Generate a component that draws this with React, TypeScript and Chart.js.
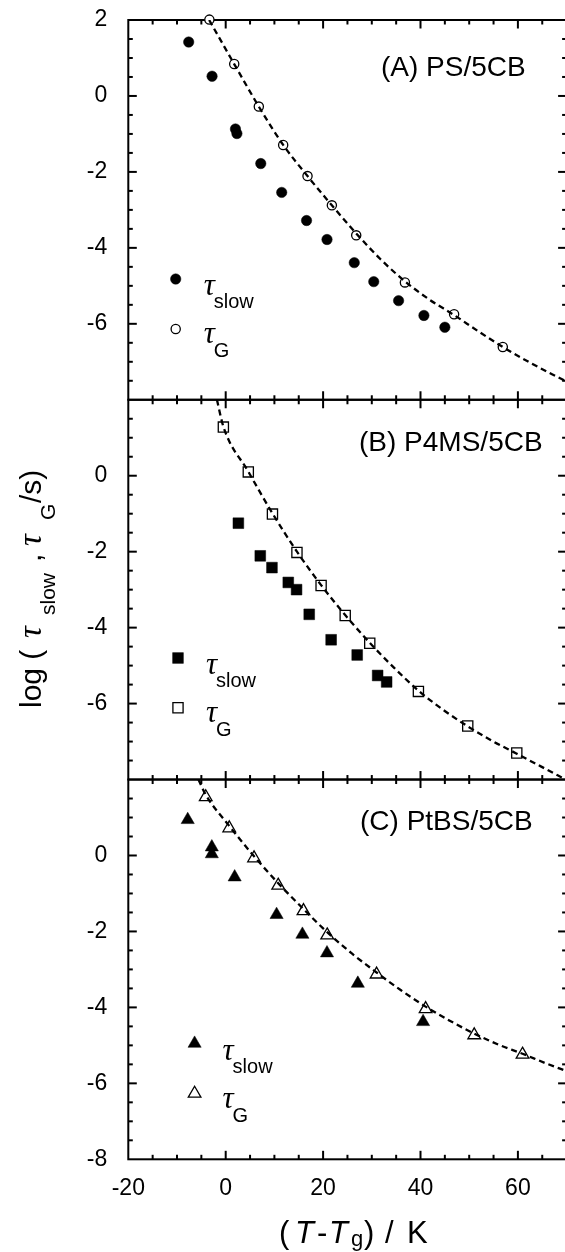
import React, { useEffect, useRef } from "react";
import { Chart, registerables } from "chart.js";

Chart.register(...registerables);

// ---------- data ----------
const xTickValues = [-20, 0, 20, 40, 60];
const yTickValues = [-8, -6, -4, -2, 0, 2];
const xMin = -20;
const xMax = 70;
const yMin = -8;
const yMax = 2;
const panelLabels = ["(A) PS/5CB", "(B) P4MS/5CB", "(C) PtBS/5CB"];

// Panel A: PS/5CB
const psSlowX = [-7.6, -2.8, 2.0, 2.3, 7.2, 11.5, 16.6, 20.8, 26.4, 30.4, 35.5, 40.7, 45.0];
const psSlowY = [1.42, 0.52, -0.87, -0.99, -1.78, -2.54, -3.28, -3.78, -4.39, -4.89, -5.39, -5.78, -6.09];
const psGX = [-3.35, 1.75, 6.8, 11.8, 16.8, 21.8, 26.8, 36.8, 46.9, 56.9];
const psGY = [2.01, 0.84, -0.28, -1.29, -2.11, -2.88, -3.67, -4.91, -5.75, -6.61];
const psFitX = [-3.4, 1.75, 6.8, 11.8, 16.8, 21.8, 26.8, 31.8, 36.8, 41.8, 46.9, 51.9, 56.9, 61.9, 66.9, 70];
const psFitY = [2.0, 0.84, -0.28, -1.29, -2.11, -2.88, -3.62, -4.3, -4.88, -5.36, -5.77, -6.2, -6.61, -6.98, -7.32, -7.52];

// Panel B: P4MS/5CB
const p4msSlowX = [2.6, 7.1, 9.5, 12.85, 14.55, 17.15, 21.65, 27.0, 31.2, 33.05];
const p4msSlowY = [-1.25, -2.11, -2.42, -2.81, -3.0, -3.65, -4.32, -4.72, -5.26, -5.43];
const p4msGX = [-0.48, 4.64, 9.6, 14.63, 19.59, 24.54, 29.58, 39.57, 49.7, 59.77];
const p4msGY = [1.28, 0.1, -1.01, -2.02, -2.89, -3.68, -4.41, -5.68, -6.59, -7.3];
const p4msFitX = [-1.8, -0.47, 4.64, 9.6, 14.63, 19.59, 24.54, 29.58, 34.6, 39.57, 44.6, 49.7, 54.7, 59.77, 64.8, 69.8];
const p4msFitY = [2.0, 1.29, 0.11, -0.99, -2.0, -2.88, -3.67, -4.4, -5.06, -5.66, -6.16, -6.6, -6.98, -7.32, -7.66, -8.0];

// Panel C: PtBS/5CB
const ptbsSlowX = [-7.8, -2.85, -2.85, 1.84, 10.45, 15.75, 20.8, 27.13, 40.53];
const ptbsSlowY = [0.94, 0.22, 0.04, -0.57, -1.56, -2.08, -2.57, -3.37, -4.38];
const ptbsGX = [-4.1, 0.73, 5.82, 10.78, 15.97, 20.84, 30.98, 41.05, 51.03, 60.95];
const ptbsGY = [1.54, 0.72, -0.07, -0.79, -1.46, -2.1, -3.13, -4.04, -4.73, -5.24];
const ptbsFitX = [-5.6, -4.1, 0.72, 5.82, 10.78, 15.97, 20.84, 25.9, 30.98, 36.0, 41.05, 46.0, 51.03, 56.0, 60.95, 65.5, 70];
const ptbsFitY = [2.0, 1.6, 0.78, -0.02, -0.73, -1.41, -2.02, -2.58, -3.08, -3.55, -3.98, -4.35, -4.69, -4.98, -5.22, -5.46, -5.68];

// ---------- layout ----------
const W = 572;
const H = 1252;
const AREA_LEFT = 128.3;
const AREA_RIGHT = 566.6;
const AREA_TOP = 20;
const AREA_BOTTOM = 1159.3;

const SANS = "'Liberation Sans', Arial, Helvetica, sans-serif";
const SERIF = "'Liberation Serif', 'Times New Roman', serif";

const zip = (xs: number[], ys: number[]) => xs.map((x, i) => ({ x, y: ys[i] }));

const markerSet = (
  data: { x: number; y: number }[],
  yAxisID: string,
  style: string,
  filled: boolean,
  radius: number
) => ({
  data,
  yAxisID,
  showLine: false,
  pointStyle: style,
  pointRadius: radius,
  pointHoverRadius: radius,
  pointBackgroundColor: filled ? "#000" : "#fff",
  pointBorderColor: "#000",
  pointBorderWidth: filled ? 0.5 : 1.3,
  order: 2,
  clip: false as const,
});

const fitSet = (data: { x: number; y: number }[], yAxisID: string) => ({
  data,
  yAxisID,
  showLine: true,
  pointRadius: 0,
  borderColor: "#000",
  borderWidth: 2.3,
  borderDash: [6, 4],
  cubicInterpolationMode: "monotone" as const,
  fill: false,
  order: 1,
});

const hideFor: Record<string, number[]> = {
  yA: [-8],
  yB: [-8, 2],
  yC: [2],
};

const yScale = (id: string) => ({
  type: "linear" as const,
  position: "left" as const,
  stack: "panels",
  stackWeight: 1,
  min: yMin,
  max: yMax,
  afterBuildTicks: (s: any) => {
    s.ticks = yTickValues.map((v) => ({ value: v }));
  },
  afterFit: (s: any) => {
    s.width = AREA_LEFT;
  },
  // invisible tick marks only serve as the gap between labels and the frame
  grid: {
    display: true,
    drawOnChartArea: false,
    drawTicks: true,
    tickLength: 21,
    tickColor: "rgba(0,0,0,0)",
    color: "rgba(0,0,0,0)",
  },
  border: { display: false },
  ticks: {
    color: "#000",
    font: { family: SANS, size: 23 },
    padding: 0,
    callback: (v: any) => (hideFor[id].includes(Number(v)) ? "" : String(v)),
  },
});

function drawTau(ctx: CanvasRenderingContext2D, x: number, y: number, size: number) {
  ctx.font = `italic ${size}px ${SERIF}`;
  ctx.fillText("\u03C4", x, y);
}

function drawMarker(
  ctx: CanvasRenderingContext2D,
  kind: string,
  filled: boolean,
  x: number,
  y: number,
  r: number
) {
  ctx.beginPath();
  if (kind === "circle") {
    ctx.arc(x, y, r, 0, Math.PI * 2);
  } else if (kind === "rect") {
    const s = r * Math.SQRT1_2;
    ctx.rect(x - s, y - s, 2 * s, 2 * s);
  } else {
    ctx.moveTo(x, y - r);
    ctx.lineTo(x + r * Math.sin(Math.PI / 3), y + r / 2);
    ctx.lineTo(x - r * Math.sin(Math.PI / 3), y + r / 2);
    ctx.closePath();
  }
  ctx.fillStyle = filled ? "#000" : "#fff";
  ctx.fill();
  ctx.lineWidth = filled ? 0.5 : 1.3;
  ctx.strokeStyle = "#000";
  ctx.stroke();
}

const panelIds = ["yA", "yB", "yC"];

const legendSpecs = [
  { kind: "circle", mx: 175.7, my1: 279, my2: 329, rF: 5.2, rO: 4.6 },
  { kind: "rect", mx: 178, my1: 658, my2: 707.7, rF: 7.6, rO: 7.2 },
  { kind: "triangle", mx: 194.6, my1: 1043.5, my2: 1093.5, rF: 7.6, rO: 7.3 },
];
const labelPos = [
  { x: 381, y: 76 },
  { x: 359, y: 451 },
  { x: 360, y: 830 },
];

const framePlugin = {
  id: "framePlugin",
  beforeDatasetsDraw(chart: any) {
    const ctx: CanvasRenderingContext2D = chart.ctx;
    const xs = chart.scales.x;
    const { left, right } = chart.chartArea;
    ctx.save();
    ctx.strokeStyle = "#000";
    ctx.lineWidth = 2;
    ctx.lineCap = "butt";
    const seg = (x1: number, y1: number, x2: number, y2: number) => {
      ctx.beginPath();
      ctx.moveTo(x1, y1);
      ctx.lineTo(x2, y2);
      ctx.stroke();
    };
    for (const id of panelIds) {
      const ys = chart.scales[id];
      const top = ys.top;
      const bottom = ys.bottom;
      ctx.strokeRect(left, top, right - left, bottom - top);
      for (let v = xMin; v <= xMax + 1e-9; v += 5) {
        const px = xs.getPixelForValue(v);
        if (px <= left + 1 || px >= right - 1) continue;
        const len = Math.abs(v % 20) < 1e-9 ? 8.5 : 4.5;
        seg(px, bottom, px, bottom - len);
        seg(px, top, px, top + len);
      }
      for (let v = yMin; v <= yMax + 1e-9; v += 0.5) {
        const py = ys.getPixelForValue(v);
        if (py <= top + 1 || py >= bottom - 1) continue;
        const len = Math.abs(v % 2) < 1e-9 ? 8.5 : 4.5;
        seg(left, py, left + len, py);
        seg(right, py, right - len, py);
      }
    }
    ctx.restore();
  },
  afterDraw(chart: any) {
    const ctx: CanvasRenderingContext2D = chart.ctx;
    ctx.save();
    ctx.fillStyle = "#000";
    ctx.textAlign = "left";
    ctx.textBaseline = "alphabetic";

    // panel labels
    panelLabels.forEach((t, i) => {
      ctx.font = `28px ${SANS}`;
      ctx.fillStyle = "#000";
      ctx.fillText(t, labelPos[i].x, labelPos[i].y);
    });

    // legends
    legendSpecs.forEach((L) => {
      drawMarker(ctx, L.kind, true, L.mx, L.my1, L.rF);
      drawMarker(ctx, L.kind, false, L.mx, L.my2, L.rO);
      ctx.fillStyle = "#000";
      drawTau(ctx, L.mx + 28, L.my1 + 16, 31);
      ctx.font = `20px ${SANS}`;
      ctx.fillText("slow", L.mx + 38, L.my1 + 29);
      drawTau(ctx, L.mx + 28, L.my2 + 14, 31);
      ctx.font = `20px ${SANS}`;
      ctx.fillText("G", L.mx + 38, L.my2 + 28);
    });

    // y axis title (rotated)
    ctx.save();
    ctx.translate(41, 708);
    ctx.rotate(-Math.PI / 2);
    ctx.font = `30px ${SANS}`;
    ctx.fillText("log (", 0, 0);
    drawTau(ctx, 70, 0, 33);
    ctx.font = `21px ${SANS}`;
    ctx.fillText("slow", 93, 14);
    ctx.font = `30px ${SANS}`;
    ctx.fillText(",", 146, 0);
    drawTau(ctx, 162, 0, 33);
    ctx.font = `21px ${SANS}`;
    ctx.fillText("G", 188, 14);
    ctx.font = `30px ${SANS}`;
    ctx.fillText("/s)", 205, 0);
    ctx.restore();

    // x axis title
    const by = 1243;
    ctx.font = `31px ${SANS}`;
    ctx.fillText("(", 279, by);
    ctx.font = `italic 31px ${SANS}`;
    ctx.fillText("T", 295, by);
    ctx.font = `31px ${SANS}`;
    ctx.fillText("-", 317, by);
    ctx.font = `italic 31px ${SANS}`;
    ctx.fillText("T", 329, by);
    ctx.font = `22px ${SANS}`;
    ctx.fillText("g", 351, by + 3);
    ctx.font = `31px ${SANS}`;
    ctx.fillText(")", 364, by);
    ctx.fillText("/", 385, by);
    ctx.fillText("K", 407, by);

    ctx.restore();
  },
};

export default function App() {
  const ref = useRef<HTMLCanvasElement>(null);

  useEffect(() => {
    const canvas = ref.current;
    if (!canvas) return;
    const padding = { left: 0, right: W - AREA_RIGHT, top: AREA_TOP, bottom: 0 };
    const chart = new Chart(canvas, {
      type: "scatter",
      data: {
        datasets: [
          fitSet(zip(psFitX, psFitY), "yA"),
          fitSet(zip(p4msFitX, p4msFitY), "yB"),
          fitSet(zip(ptbsFitX, ptbsFitY), "yC"),
          markerSet(zip(psSlowX, psSlowY), "yA", "circle", true, 5.2),
          markerSet(zip(psGX, psGY), "yA", "circle", false, 4.6),
          markerSet(zip(p4msSlowX, p4msSlowY), "yB", "rect", true, 7.6),
          markerSet(zip(p4msGX, p4msGY), "yB", "rect", false, 7.2),
          markerSet(zip(ptbsSlowX, ptbsSlowY), "yC", "triangle", true, 7.6),
          markerSet(zip(ptbsGX, ptbsGY), "yC", "triangle", false, 7.3),
        ] as any,
      },
      options: {
        animation: false,
        responsive: false,
        devicePixelRatio: 1,
        layout: { padding: { ...padding }, autoPadding: false },
        plugins: {
          legend: { display: false },
          tooltip: { enabled: false },
          title: { display: false },
        },
        events: [],
        scales: {
          x: {
            type: "linear",
            position: "bottom",
            min: xMin,
            max: xMax,
            afterBuildTicks: (s: any) => {
              s.ticks = xTickValues.map((v) => ({ value: v }));
            },
            afterFit: (s: any) => {
              s.height = H - AREA_BOTTOM;
            },
            grid: { display: false },
            border: { display: false },
            ticks: {
              color: "#000",
              font: { family: SANS, size: 23 },
              padding: 8,
              maxRotation: 0,
              autoSkip: false,
            },
          },
          yC: yScale("yC"),
          yB: yScale("yB"),
          yA: yScale("yA"),
        } as any,
      },
      plugins: [framePlugin],
    });

    // correct the plot area so the panels land exactly where the reference has them
    for (let i = 0; i < 5; i++) {
      const a = chart.chartArea;
      const topPx = chart.scales.yA.top;
      const bottomPx = chart.scales.yC.bottom;
      const dTop = AREA_TOP - topPx;
      const dRight = a.right - AREA_RIGHT;
      const dBottom = bottomPx - AREA_BOTTOM;
      if (Math.abs(dTop) < 0.05 && Math.abs(dRight) < 0.05 && Math.abs(dBottom) < 0.05) break;
      padding.top = Math.max(0, padding.top + dTop);
      padding.right = Math.max(0, padding.right + dRight);
      padding.bottom = Math.max(0, padding.bottom + dBottom);
      (chart.config.options as any).layout = { padding: { ...padding }, autoPadding: false };
      chart.update("none");
    }

    return () => chart.destroy();
  }, []);

  return (
    <div
      style={{
        position: "absolute",
        left: 0,
        top: 0,
        width: 565,
        height: 1252,
        overflow: "hidden",
        background: "#fff",
      }}
    >
      <canvas ref={ref} width={W} height={H} style={{ display: "block", width: W, height: H }} />
    </div>
  );
}
